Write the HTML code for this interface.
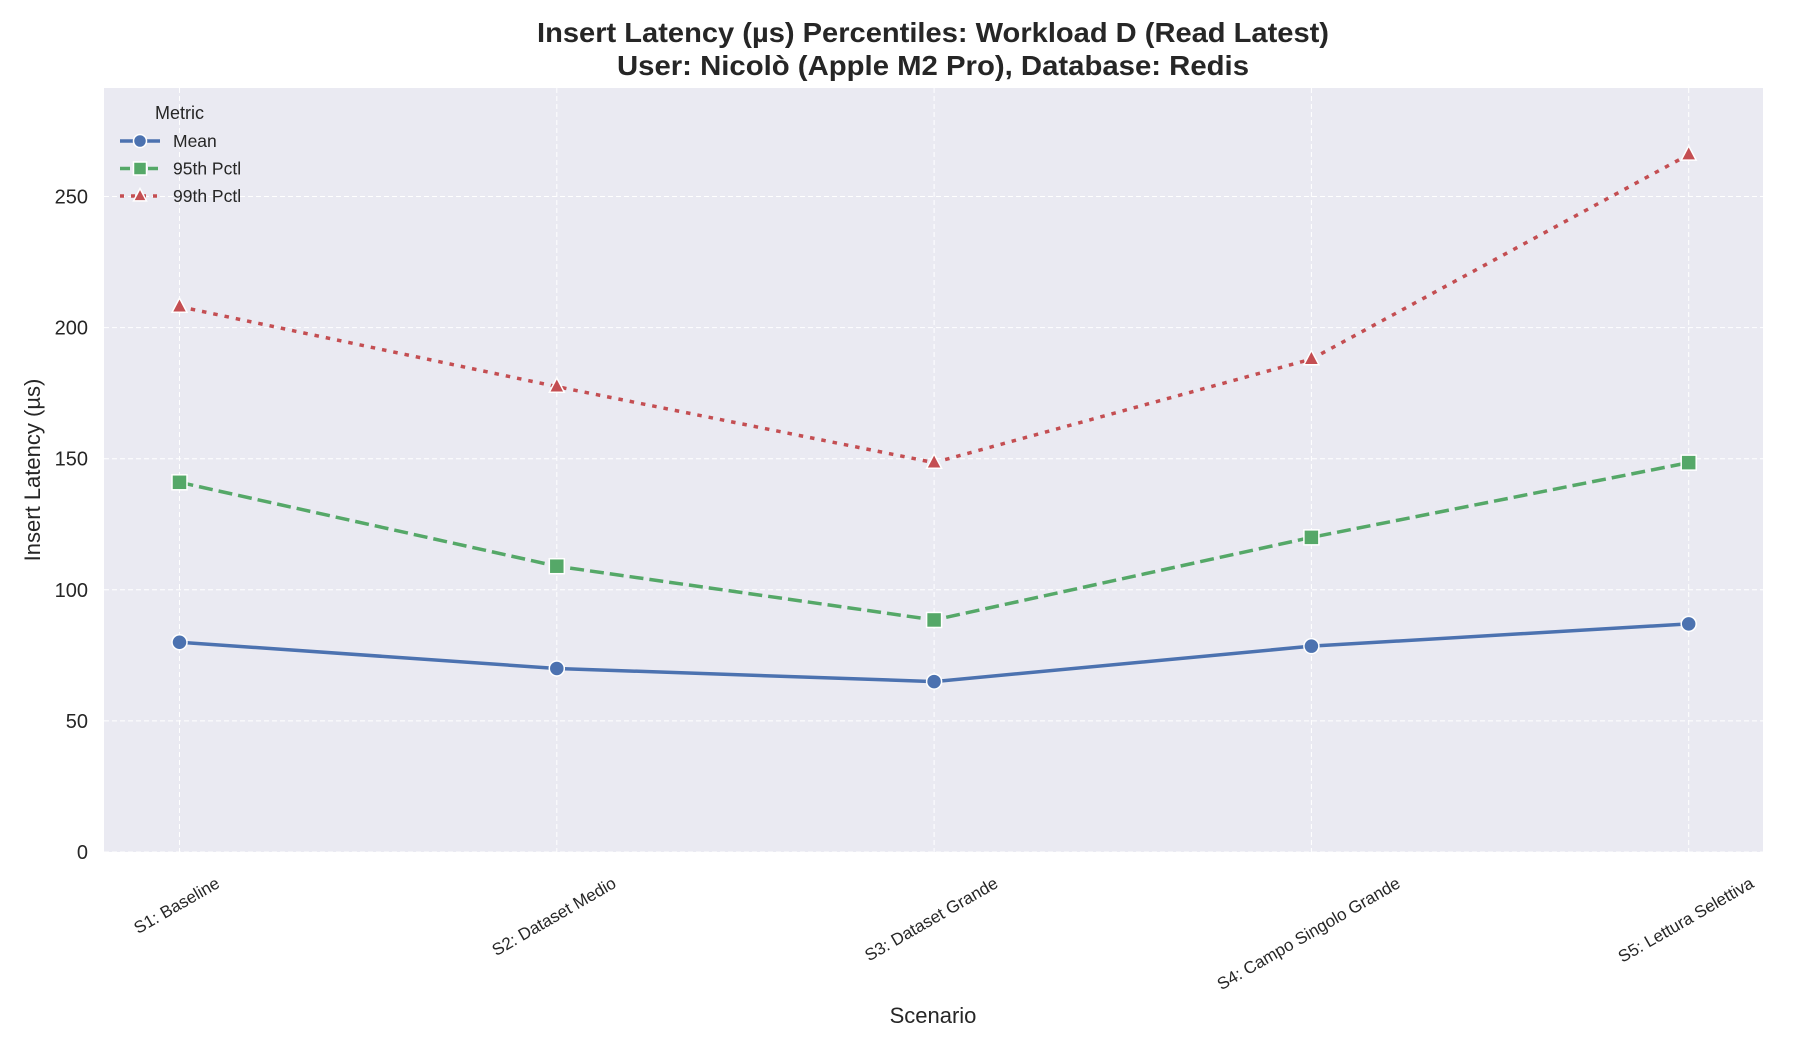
<!DOCTYPE html>
<html><head><meta charset="utf-8"><style>
html,body{margin:0;padding:0;background:#fff;}
svg{display:block;font-family:"Liberation Sans",Arial,sans-serif;}
</style></head><body>
<svg id="chart" width="1800" height="1050" viewBox="0 0 1800 1050">
<rect x="0" y="0" width="1800" height="1050" fill="#fff"/>
<rect x="104" y="88" width="1659" height="764" fill="#eaeaf2"/>
<g id="grid"></g>
<g id="series"></g>
<g id="yticks"></g>
<g id="xticks"></g>
<text x="933" y="42" text-anchor="middle" font-size="28" font-weight="bold" fill="#262626" textLength="792" lengthAdjust="spacingAndGlyphs">Insert Latency (µs) Percentiles: Workload D (Read Latest)</text>
<text x="933" y="75" text-anchor="middle" font-size="28" font-weight="bold" fill="#262626" textLength="632" lengthAdjust="spacingAndGlyphs">User: Nicolò (Apple M2 Pro), Database: Redis</text>
<text x="933" y="1023" text-anchor="middle" font-size="22" fill="#262626">Scenario</text>
<text transform="translate(40,470) rotate(-90)" text-anchor="middle" font-size="22" fill="#262626">Insert Latency (µs)</text>
<g id="legend">
<text x="155" y="119" font-size="18" fill="#262626">Metric</text>
</g>
</svg>
<script>
const categories = ["S1: Baseline","S2: Dataset Medio","S3: Dataset Grande","S4: Campo Singolo Grande","S5: Lettura Selettiva"];
const meanValues = [80, 70, 65, 78.5, 87];
const p95Values = [141, 109, 88.5, 120, 148.5];
const p99Values = [208, 177.5, 148.5, 188, 266];
const yTicks = [0, 50, 100, 150, 200, 250];
const seriesNames = ["Mean", "95th Pctl", "99th Pctl"];

const NS = "http://www.w3.org/2000/svg";
const X0 = 179.5, X1 = 1688.7, Y0 = 852, PX_PER_UNIT = 131.1/50;
function xs(i){ return X0 + i*(X1-X0)/(categories.length-1); }
function ys(v){ return Y0 - v*PX_PER_UNIT; }
function mk(tag, attrs, parent){ const e=document.createElementNS(NS,tag); for(const k in attrs) e.setAttribute(k,attrs[k]); parent.appendChild(e); return e; }

const grid = document.getElementById('grid');
const yt = document.getElementById('yticks');
yTicks.forEach(t=>{
  const l = mk('line',{x1:104,x2:1763,y1:ys(t),y2:ys(t),stroke:'#fff','stroke-width':1,'stroke-dasharray':'5,3'},grid);
  
  
  const tx = mk('text',{x:88,y:ys(t)+7,'text-anchor':'end','font-size':20,fill:'#262626'},yt);
  tx.textContent = t;
  
  
});
const xt = document.getElementById('xticks');
categories.forEach((c,i)=>{
  const l = mk('line',{x1:xs(i),x2:xs(i),y1:88,y2:852,stroke:'#fff','stroke-width':1,'stroke-dasharray':'5,3'},grid);
  
  
  const tx = mk('text',{'text-anchor':'middle','font-size':17,fill:'#262626'},xt);
  tx.textContent = c;
  
  
  const L = tx.getComputedTextLength();
  const cy = 874 + (L*0.5 + 15)/2;
  tx.setAttribute('transform','translate('+xs(i)+','+(cy+5)+') rotate(-30)');
});

const colors = ['#4c72b0','#55a868','#c44e52'];
const dashes = ['none','14,6','4.5,7'];
const allSeries = [meanValues, p95Values, p99Values];
const names = ['mean','p95','p99'];
const sg = document.getElementById('series');
function marker(type, x, y, color, parent, size){
  let e;
  if(type===0) e = mk('circle',{cx:x,cy:y,r:size,fill:color,stroke:'#fff','stroke-width':1.5},parent);
  else if(type===1) e = mk('rect',{x:x-size,y:y-size,width:2*size,height:2*size,fill:color,stroke:'#fff','stroke-width':1.5},parent);
  else e = mk('polygon',{points:(x)+','+(y-size*1.15)+' '+(x+size)+','+(y+size*0.75)+' '+(x-size)+','+(y+size*0.75),fill:color,stroke:'#fff','stroke-width':1.5},parent);
  return e;
}
allSeries.forEach((vals,s)=>{
  const pts = vals.map((v,i)=>xs(i)+','+ys(v)).join(' ');
  const pl = mk('polyline',{points:pts,fill:'none',stroke:colors[s],'stroke-width':3.5,'stroke-dasharray':dashes[s]},sg);
  
  
  vals.forEach((v,i)=>{
    const m = marker(s, xs(i), ys(v), colors[s], sg, 7.5);
    
    
  });
});
const lg = document.getElementById('legend');
seriesNames.forEach((n,s)=>{
  const y = 141 + s*27.5;
  const l = mk('line',{x1:120,x2:160,y1:y,y2:y,stroke:colors[s],'stroke-width':3.5,'stroke-dasharray':s===1?'10,4':(s===2?'4,7':'none')},lg);
  
  
  const m = marker(s,140,y,colors[s],lg,6.5);
  
  
  const t = mk('text',{x:173,y:y+6,'font-size':17.5,fill:'#262626'},lg);
  t.textContent = n;
  
  
});
</script>
</body></html>
